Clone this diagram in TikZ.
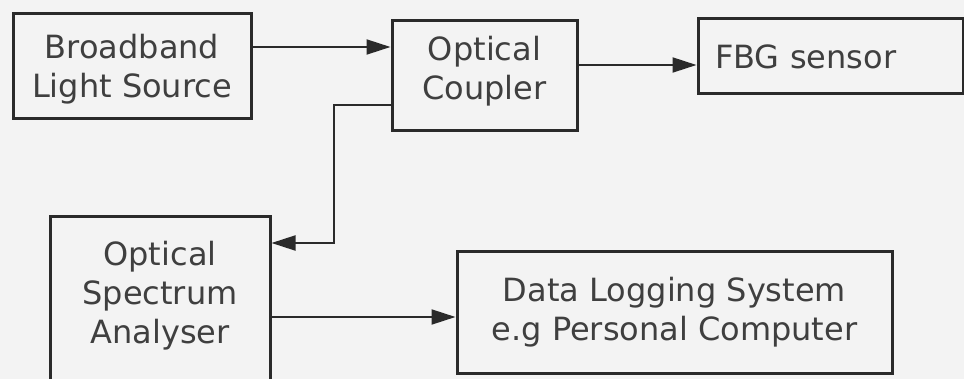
\documentclass[tikz,border=0pt]{standalone}
\usepackage{fontspec}
\setmainfont{DejaVu Sans}
\usetikzlibrary{arrows.meta}
\definecolor{ink}{HTML}{2A2A2A}
\definecolor{paper}{HTML}{F3F3F3}

\begin{document}
\begin{tikzpicture}[x=0.5pt, y=-0.5pt,
    blocktext/.style={text=ink!90, font=\fontsize{16}{19.5}\selectfont, align=center},
    block/.style={draw=ink, line width=1.5pt, inner sep=0pt, blocktext},
    link/.style={draw=ink, line width=1pt, -{Triangle[length=12pt, width=7.5pt]}}]
  \newcommand{\Width}{964}
  \newcommand{\Height}{379}
  \newcommand{\tapX}{334}

  % Page and background
  \useasboundingbox (0,0) rectangle (\Width,\Height);
  \clip (0,0) rectangle (\Width,\Height);
  \fill[paper] (0,0) rectangle (\Width,\Height);

  % Draws the blocks of the set-up
  \node[block, minimum width=119pt, minimum height=52.5pt,
        label={[blocktext, yshift=-1.5pt]center:{Broadband\\Light Source}}]
       (source) at (132,66.5) {};
  \node[block, minimum width=92.5pt, minimum height=55pt,
        label={[blocktext, yshift=2.5pt]center:{Optical\\Coupler}}]
       (coupler) at (484.5,76) {};
  \node[block, minimum height=37.5pt, text width=115.5pt, inner xsep=8.5pt,
        align=left] (fbg) at (830.5,56.5) {FBG sensor};
  \node[block, minimum width=110pt, minimum height=90pt,
        label={[blocktext, yshift=5.5pt]center:{Optical\\Spectrum\\Analyser}}]
       (analyser) at (160,307) {};
  \node[block, minimum width=217.5pt, minimum height=60.5pt] (logger) at (674.5,312.5)
       {Data Logging System\\e.g Personal Computer};

  % Draws the light and data paths
  \draw[link] (source.east |- 0,47) -- (coupler.west |- 0,47);
  \draw[link] (coupler.east |- 0,65) -- (fbg.west |- 0,65);
  \coordinate (tap) at (\tapX,243);
  \draw[link] (coupler.west |- 0,105) -| (tap) -- (analyser.east |- tap);
  \draw[link] (analyser.east |- 0,317) -- (logger.west |- 0,317);
\end{tikzpicture}
\end{document}
